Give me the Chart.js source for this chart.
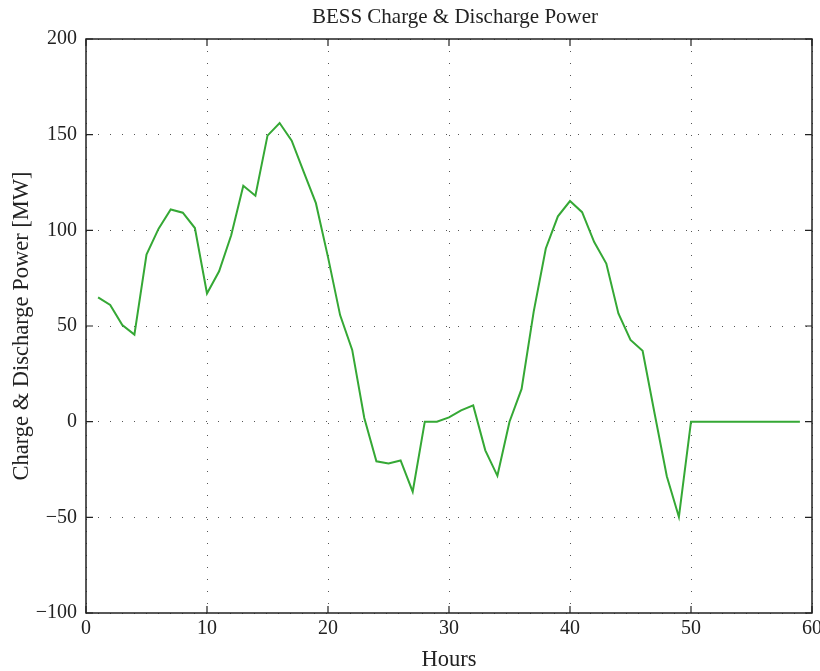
<!DOCTYPE html>
<html>
<head>
<meta charset="utf-8">
<script src="https://cdn.jsdelivr.net/npm/chart.js@4.4.1/dist/chart.umd.min.js"></script>
<style>
  html, body { margin: 0; padding: 0; background: #fff; }
  #wrap { width: 820px; height: 671px; }
</style>
</head>
<body>
<div id="wrap"><canvas id="bessChart" width="820" height="671"></canvas></div>
<script>
// hourly BESS power, positive = discharge, negative = charge
const hours = [1, 2, 3, 4, 5, 6, 7, 8, 9, 10, 11, 12, 13, 14, 15, 16, 17, 18, 19, 20,
               21, 22, 23, 24, 25, 26, 27, 28, 29, 30, 31, 32, 33, 34, 35, 36, 37, 38, 39, 40,
               41, 42, 43, 44, 45, 46, 47, 48, 49, 50, 51, 52, 53, 54, 55, 56, 57, 58, 59];
const power = [65, 61, 50.5, 45.5, 87.3, 100.9, 110.9, 109.2, 101.2, 67,
               78.6, 97.4, 123.3, 118.1, 149.5, 156.1, 146.9, 130.4, 114.2, 86,
               55.7, 37.5, 1.9, -20.7, -21.9, -20.3, -36.6, 0, 0, 2.2,
               5.9, 8.5, -15, -28.3, 0, 17.1, 57.5, 90.5, 107.3, 115.3,
               109.5, 93.9, 82.6, 56.6, 42.7, 37, 4, -28.5, -49.8, 0,
               0, 0, 0, 0, 0, 0, 0, 0, 0];
const xTicks = [0, 10, 20, 30, 40, 50, 60];
const yTicks = [-100, -50, 0, 50, 100, 150, 200];

const SERIF = '"Liberation Serif", "DejaVu Serif", serif';
const chartTitle = 'BESS Charge & Discharge Power';

// box around the plot, inward tick marks on all sides, title over the plot
const framePlugin = {
    id: 'frame',
    afterDraw(chart) {
        const {ctx, chartArea: a, scales} = chart;
        ctx.save();
        ctx.strokeStyle = '#222';
        ctx.lineWidth = 1.5;
        ctx.strokeRect(a.left, a.top, a.right - a.left, a.bottom - a.top);

        ctx.lineWidth = 1.2;
        ctx.beginPath();
        scales.x.ticks.forEach(t => {
            const px = scales.x.getPixelForValue(t.value);
            ctx.moveTo(px, a.bottom); ctx.lineTo(px, a.bottom - 7);
            ctx.moveTo(px, a.top); ctx.lineTo(px, a.top + 7);
        });
        scales.y.ticks.forEach(t => {
            const py = scales.y.getPixelForValue(t.value);
            ctx.moveTo(a.left, py); ctx.lineTo(a.left + 7, py);
            ctx.moveTo(a.right, py); ctx.lineTo(a.right - 7, py);
        });
        ctx.stroke();

        ctx.fillStyle = '#222';
        ctx.font = '21px ' + SERIF;
        ctx.textAlign = 'center';
        ctx.textBaseline = 'middle';
        ctx.fillText(chartTitle, (a.left + a.right) / 2 + 6, 17);
        ctx.restore();
    }
};

const ctx = document.getElementById('bessChart').getContext('2d');

const config = {
    type: 'line',
    data: {
        datasets: [{
            label: 'BESS power',
            data: hours.map((h, i) => ({x: h, y: power[i]})),
            borderColor: '#35a835',
            borderWidth: 2,
            pointRadius: 0,
            tension: 0,
            fill: false,
        }],
    },
    plugins: [framePlugin],
    options: {
        responsive: false,
        animation: false,
        layout: { padding: { top: 39, right: 8, bottom: 0, left: 0 } },
        plugins: {
            legend: { display: false },
            title: { display: false },
            tooltip: { enabled: false },
        },
        scales: {
            x: {
                type: 'linear',
                min: 0,
                max: 60,
                afterBuildTicks: s => { s.ticks = xTicks.map(v => ({value: v})); },
                // let the last label run past the edge instead of shrinking the plot
                afterFit: s => { s.height = 58; s.paddingRight = 0; },
                ticks: {
                    color: '#222',
                    font: { family: SERIF, size: 20 },
                    padding: 4,
                    maxRotation: 0,
                    autoSkip: false,
                },
                grid: { color: '#555', lineWidth: 1, drawTicks: false },
                border: { display: false, dash: [1, 11] },
                title: {
                    display: true,
                    text: 'Hours',
                    color: '#222',
                    font: { family: SERIF, size: 22.5, lineHeight: 1 },
                    padding: { top: 0, bottom: 0 },
                },
            },
            y: {
                type: 'linear',
                min: -100,
                max: 200,
                afterBuildTicks: s => { s.ticks = yTicks.map(v => ({value: v})); },
                afterFit: s => { s.width = 86; },
                ticks: {
                    color: '#222',
                    font: { family: SERIF, size: 20 },
                    padding: 9,
                    callback: v => String(v).replace('-', '\u2212'),
                },
                grid: { color: '#555', lineWidth: 1, drawTicks: false },
                border: { display: false, dash: [1, 11] },
                title: {
                    display: true,
                    text: 'Charge & Discharge Power [MW]',
                    color: '#222',
                    font: { family: SERIF, size: 22.5, lineHeight: 1 },
                    padding: { top: 11, bottom: 0 },
                },
            },
        },
    },
};

const bessChart = new Chart(ctx, config);
</script>
</body>
</html>
